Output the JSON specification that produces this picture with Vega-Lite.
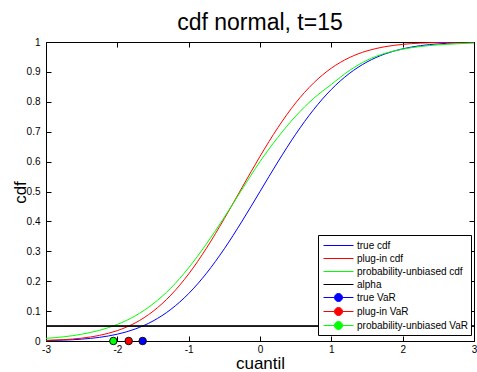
{
  "$schema": "https://vega.github.io/schema/vega-lite/v6.json",
  "width": 428,
  "height": 299,
  "autosize": {"type": "none"},
  "padding": {"left": 46, "top": 42, "right": 3, "bottom": 31},
  "background": "white",
  "title": {"text": "cdf normal, t=15", "fontSize": 23, "font": "Liberation Sans", "fontWeight": "normal", "color": "black", "anchor": "middle", "offset": 6, "dy": 22, "baseline": "alphabetic"},
  "config": {
    "view": {"stroke": "black", "strokeWidth": 1},
    "font": "Liberation Sans",
    "axis": {"grid": false, "domainColor": "black", "tickColor": "black", "labelColor": "black", "titleColor": "black", "labelFont": "Liberation Sans", "titleFont": "Liberation Sans", "labelFontSize": 10, "titleFontSize": 17, "titleFontWeight": "normal", "tickSize": -5, "labelFlush": false, "labelOverlap": false}
  },
  "datasets": {
    "curves": [
      {"x": -3, "series": "true cdf", "y": 0.00135}, {"x": -2.75, "series": "true cdf", "y": 0.00298}, {"x": -2.5, "series": "true cdf", "y": 0.00621}, {"x": -2.25, "series": "true cdf", "y": 0.01222}, {"x": -2, "series": "true cdf", "y": 0.02275}, {"x": -1.75, "series": "true cdf", "y": 0.04006}, {"x": -1.5, "series": "true cdf", "y": 0.06681}, {"x": -1.25, "series": "true cdf", "y": 0.10565}, {"x": -1, "series": "true cdf", "y": 0.15866}, {"x": -0.75, "series": "true cdf", "y": 0.22663}, {"x": -0.5, "series": "true cdf", "y": 0.30854}, {"x": -0.25, "series": "true cdf", "y": 0.40129}, {"x": 0, "series": "true cdf", "y": 0.5}, {"x": 0.25, "series": "true cdf", "y": 0.59871}, {"x": 0.5, "series": "true cdf", "y": 0.69146}, {"x": 0.75, "series": "true cdf", "y": 0.77337}, {"x": 1, "series": "true cdf", "y": 0.84134}, {"x": 1.25, "series": "true cdf", "y": 0.89435}, {"x": 1.5, "series": "true cdf", "y": 0.93319}, {"x": 1.75, "series": "true cdf", "y": 0.95994}, {"x": 2, "series": "true cdf", "y": 0.97725}, {"x": 2.25, "series": "true cdf", "y": 0.98778}, {"x": 2.5, "series": "true cdf", "y": 0.99379}, {"x": 2.75, "series": "true cdf", "y": 0.99702}, {"x": 3, "series": "true cdf", "y": 0.99865},
      {"x": -3, "series": "plug-in cdf", "y": 0.00204}, {"x": -2.75, "series": "plug-in cdf", "y": 0.00455}, {"x": -2.5, "series": "plug-in cdf", "y": 0.00954}, {"x": -2.25, "series": "plug-in cdf", "y": 0.0188}, {"x": -2, "series": "plug-in cdf", "y": 0.0348}, {"x": -1.75, "series": "plug-in cdf", "y": 0.0604}, {"x": -1.5, "series": "plug-in cdf", "y": 0.0992}, {"x": -1.25, "series": "plug-in cdf", "y": 0.1534}, {"x": -1, "series": "plug-in cdf", "y": 0.2242}, {"x": -0.75, "series": "plug-in cdf", "y": 0.3107}, {"x": -0.5, "series": "plug-in cdf", "y": 0.4094}, {"x": -0.25, "series": "plug-in cdf", "y": 0.514}, {"x": 0, "series": "plug-in cdf", "y": 0.6175}, {"x": 0.25, "series": "plug-in cdf", "y": 0.7133}, {"x": 0.5, "series": "plug-in cdf", "y": 0.7962}, {"x": 0.75, "series": "plug-in cdf", "y": 0.8626}, {"x": 1, "series": "plug-in cdf", "y": 0.9125}, {"x": 1.25, "series": "plug-in cdf", "y": 0.9475}, {"x": 1.5, "series": "plug-in cdf", "y": 0.9703}, {"x": 1.75, "series": "plug-in cdf", "y": 0.9842}, {"x": 2, "series": "plug-in cdf", "y": 0.9921}, {"x": 2.25, "series": "plug-in cdf", "y": 0.9963}, {"x": 2.5, "series": "plug-in cdf", "y": 0.9984}, {"x": 2.75, "series": "plug-in cdf", "y": 0.9993}, {"x": 3, "series": "plug-in cdf", "y": 0.9997},
      {"x": -3, "series": "probability-unbiased cdf", "y": 0.0088}, {"x": -2.75, "series": "probability-unbiased cdf", "y": 0.0141}, {"x": -2.5, "series": "probability-unbiased cdf", "y": 0.0227}, {"x": -2.25, "series": "probability-unbiased cdf", "y": 0.0357}, {"x": -2, "series": "probability-unbiased cdf", "y": 0.0555}, {"x": -1.75, "series": "probability-unbiased cdf", "y": 0.084}, {"x": -1.5, "series": "probability-unbiased cdf", "y": 0.124}, {"x": -1.25, "series": "probability-unbiased cdf", "y": 0.177}, {"x": -1, "series": "probability-unbiased cdf", "y": 0.245}, {"x": -0.75, "series": "probability-unbiased cdf", "y": 0.325}, {"x": -0.5, "series": "probability-unbiased cdf", "y": 0.414}, {"x": -0.25, "series": "probability-unbiased cdf", "y": 0.508}, {"x": 0, "series": "probability-unbiased cdf", "y": 0.6}, {"x": 0.25, "series": "probability-unbiased cdf", "y": 0.681}, {"x": 0.5, "series": "probability-unbiased cdf", "y": 0.752}, {"x": 0.75, "series": "probability-unbiased cdf", "y": 0.811}, {"x": 1, "series": "probability-unbiased cdf", "y": 0.858}, {"x": 1.25, "series": "probability-unbiased cdf", "y": 0.904}, {"x": 1.5, "series": "probability-unbiased cdf", "y": 0.939}, {"x": 1.75, "series": "probability-unbiased cdf", "y": 0.962}, {"x": 2, "series": "probability-unbiased cdf", "y": 0.976}, {"x": 2.25, "series": "probability-unbiased cdf", "y": 0.985}, {"x": 2.5, "series": "probability-unbiased cdf", "y": 0.9905}, {"x": 2.75, "series": "probability-unbiased cdf", "y": 0.994}, {"x": 3, "series": "probability-unbiased cdf", "y": 0.9963}
    ],
    "vars": [
      {"x": -1.645, "y": 0, "series": "true VaR"},
      {"x": -1.841, "y": 0, "series": "plug-in VaR"},
      {"x": -2.056, "y": 0, "series": "probability-unbiased VaR"}
    ]
  },
  "resolve": {"axis": {"x": "independent", "y": "independent"}},
  "layer": [
    {
      "data": {"name": "curves"},
      "mark": {"type": "line", "strokeWidth": 1, "interpolate": "monotone", "clip": true},
      "encoding": {
        "x": {"field": "x", "type": "quantitative", "scale": {"domain": [-3, 3], "nice": false, "zero": false},
          "axis": {"orient": "bottom", "values": [-3, -2, -1, 0, 1, 2, 3], "labelPadding": 8, "labelExpr": "replace(datum.label, '\u2212', '-')", "title": "cuantil", "titleX": 214, "titleY": 27, "titleBaseline": "alphabetic", "titleAlign": "center", "titleAnchor": null}},
        "y": {"field": "y", "type": "quantitative", "scale": {"domain": [0, 1], "nice": false, "zero": false},
          "axis": {"orient": "left", "values": [0, 0.1, 0.2, 0.3, 0.4, 0.5, 0.6, 0.7, 0.8, 0.9, 1], "format": ".1~f", "labelPadding": 11, "title": "cdf", "titleAngle": 270, "titleX": -21, "titleY": 150, "titleBaseline": "alphabetic", "titleAlign": "center", "titleAnchor": null}},
        "color": {"field": "series", "type": "nominal",
          "scale": {"domain": ["true cdf", "plug-in cdf", "probability-unbiased cdf", "alpha", "true VaR", "plug-in VaR", "probability-unbiased VaR"],
                    "range": ["#0000ff", "#ff0000", "#00ff00", "#000000", "#0000ff", "#ff0000", "#00ff00"]},
          "legend": {
            "title": null, "orient": "none", "legendX": 272, "legendY": 193,
            "padding": 3, "strokeColor": "black", "fillColor": "white", "cornerRadius": 0,
            "rowPadding": 0, "symbolSize": 196, "symbolOffset": 10, "labelOffset": 11,
            "labelFont": "Liberation Sans", "labelFontSize": 10, "labelColor": "black", "labelLimit": 0,
            "encode": {"symbols": {"update": {
              "shape": {"signal": "indexof(datum.value, 'VaR') >= 0 ? 'M-2.14,0H-0.57M0.57,0H2.14M0.57,0A0.57,0.57,0,1,1,-0.57,0A0.57,0.57,0,1,1,0.57,0Z' : 'M-2.14,0H2.14'"},
              "stroke": {"signal": "indexof(datum.value, 'VaR') >= 0 ? '#0000ff' : (datum.value == 'true cdf' ? '#0000ff' : (datum.value == 'plug-in cdf' ? '#ff0000' : (datum.value == 'alpha' ? '#000000' : '#00ff00')))"},
              "fill": {"signal": "datum.value == 'true VaR' ? '#0000ff' : (datum.value == 'plug-in VaR' ? '#ff0000' : (datum.value == 'probability-unbiased VaR' ? '#00ff00' : 'transparent'))"},
              "strokeWidth": {"value": 1},
              "opacity": {"value": 1},
              "size": {"value": 196}
            }}}
          }}
      }
    },
    {
      "data": {"name": "vars"},
      "mark": {"type": "rule", "color": "black", "strokeWidth": 1},
      "encoding": {
        "y": {"datum": 0.05, "type": "quantitative", "axis": null}
      }
    },
    {
      "data": {"name": "vars"},
      "mark": {"type": "point", "filled": true, "size": 56, "stroke": "#111111", "strokeWidth": 1, "opacity": 1},
      "encoding": {
        "x": {"field": "x", "type": "quantitative", "scale": {"domain": [-3, 3], "nice": false, "zero": false},
          "axis": {"orient": "top", "values": [-3, -2, -1, 0, 1, 2, 3], "labels": false, "title": null}},
        "y": {"field": "y", "type": "quantitative", "scale": {"domain": [0, 1], "nice": false, "zero": false},
          "axis": {"orient": "right", "values": [0, 0.1, 0.2, 0.3, 0.4, 0.5, 0.6, 0.7, 0.8, 0.9, 1], "labels": false, "title": null}},
        "color": {"field": "series", "type": "nominal", "legend": null}
      }
    }
  ]
}
